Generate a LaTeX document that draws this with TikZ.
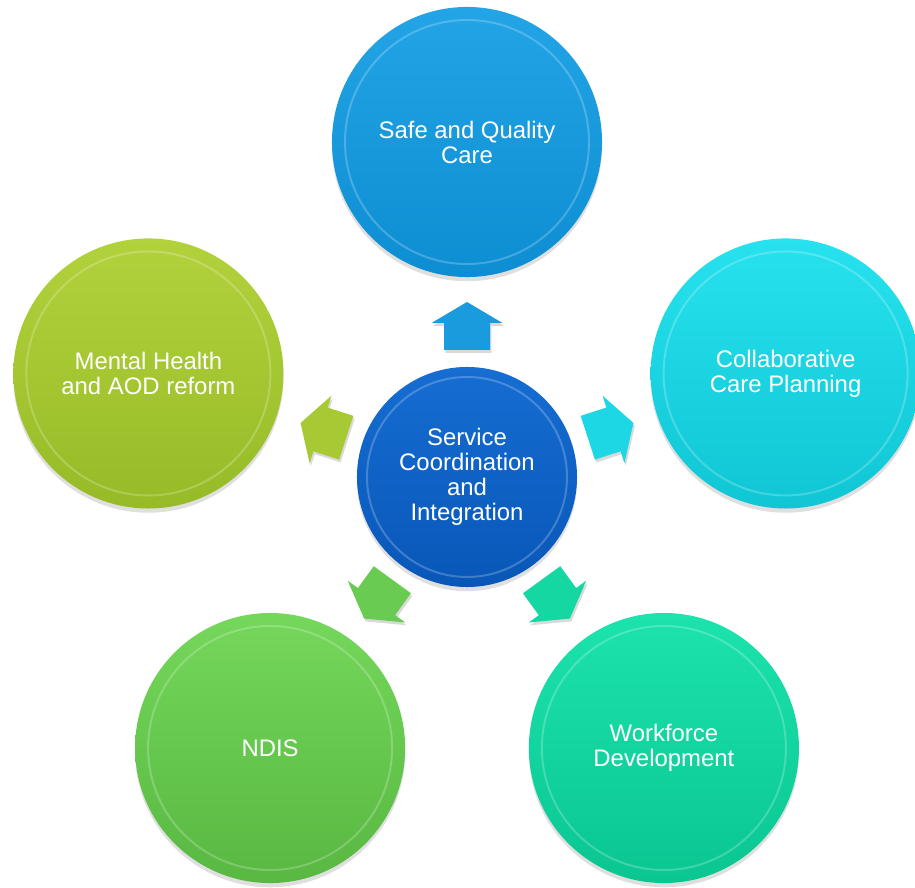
\documentclass[tikz,border=0pt]{standalone}
\usepackage{fontspec}
\setmainfont{Liberation Sans}
\usetikzlibrary{shadows}

\definecolor{hubtop}{HTML}{166DD2}
\definecolor{hubbot}{HTML}{0857B8}
\definecolor{safetop}{HTML}{22A4E6}
\definecolor{safebot}{HTML}{0E8ED2}
\definecolor{collabtop}{HTML}{27E2EE}
\definecolor{collabbot}{HTML}{10C6D4}
\definecolor{worktop}{HTML}{1CE3AC}
\definecolor{workbot}{HTML}{0AC691}
\definecolor{ndistop}{HTML}{75D75B}
\definecolor{ndisbot}{HTML}{58B842}
\definecolor{mhtop}{HTML}{B2D23C}
\definecolor{mhbot}{HTML}{96BB27}

\tikzset{
  bubble/.style={circle, minimum size=6.75cm, inner sep=0pt, text=white, align=center,
    font=\fontsize{17}{17.8}\selectfont,
    drop shadow={shadow xshift=0pt, shadow yshift=-3pt, opacity=0.25}},
  rim/.style={white, opacity=0.22, line width=1.4pt},
  pointer/.style={drop shadow={shadow xshift=1pt, shadow yshift=-2pt, opacity=0.3}}
}

\begin{document}
\begin{tikzpicture}[x=0.025cm,y=0.025cm]
\useasboundingbox (0,0) rectangle (915,888);
\clip (0,0) rectangle (915,888);

% centre
\node[bubble, minimum size=5.5cm, top color=hubtop, bottom color=hubbot] (hub) at (467,411)
  {Service\\Coordination\\and\\Integration};
\draw[rim] (hub.center) circle (100);

% outer circles
\foreach \a/\n/\c/\t in {90/safe/safe/{Safe and Quality\\Care},
                         18/collab/collab/{Collaborative\\Care Planning},
                         -54/work/work/{Workforce\\Development},
                         234/ndis/ndis/{NDIS},
                         162/mh/mh/{Mental Health\\and AOD reform}} {
\node[bubble, top color=\c top, bottom color=\c bot] (\n) at ([shift={(\a:335)}]hub.center) {\t};
\draw[rim] (\n.center) circle (122);
}

% arrows
\foreach \a/\c in {90/safe, 18/collab, -54/work, 234/ndis, 162/mh} {
\fill[pointer, \c top!60!\c bot, shift={(hub.center)}, rotate=\a]
  (127,-23) -- (154,-23) -- (154,-35.5) -- (175,0) -- (154,35.5) -- (154,23) -- (127,23) -- cycle;
}

\end{tikzpicture}
\end{document}
